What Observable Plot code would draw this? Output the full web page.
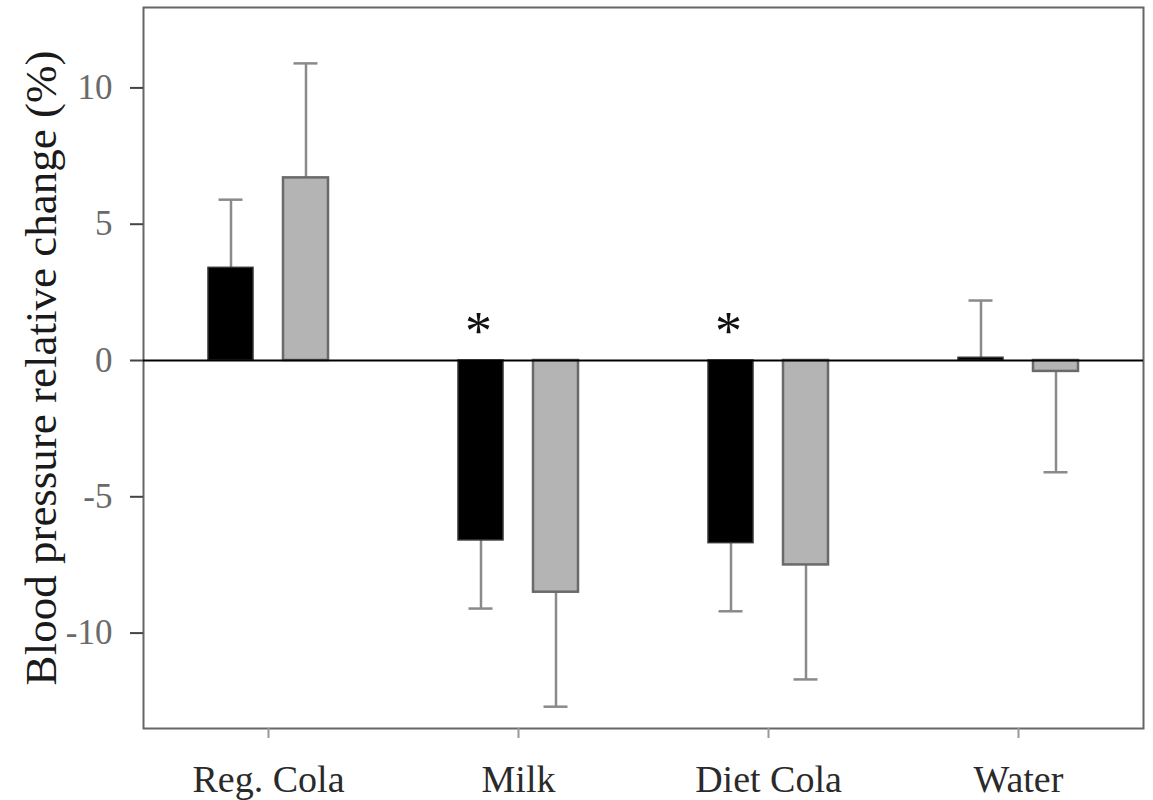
<!DOCTYPE html>
<html>
<head>
<meta charset="utf-8">
<script src="https://cdn.jsdelivr.net/npm/d3@7"></script>
<script src="https://cdn.jsdelivr.net/npm/@observablehq/plot@0.6"></script>
<style>
  html, body { margin: 0; padding: 0; background: #fff; }
  #chart svg { display: block; }
</style>
</head>
<body>
<div id="chart"></div>
<script>
// Categories
const drinks = ["Reg. Cola", "Milk", "Diet Cola", "Water"];
// Series 1 (black bars)
const blackValues = [3.4, -6.6, -6.7, 0.1];
const blackErrors = [2.5, 2.5, 2.5, 2.1];
// Series 2 (grey bars)
const greyValues = [6.7, -8.5, -7.5, -0.4];
const greyErrors = [4.2, 4.2, 4.2, 3.7];
// Significance markers above black bars
const significance = ["", "*", "*", ""];
// Y tick values
const yTicks = [-10, -5, 0, 5, 10];
const yLabel = "Blood pressure relative change (%)";

const blackRows = drinks.map((d, i) => ({drink: d, value: blackValues[i], err: blackErrors[i], sig: significance[i]}));
const greyRows = drinks.map((d, i) => ({drink: d, value: greyValues[i], err: greyErrors[i]}));
const errEnd = d => d.value + Math.sign(d.value) * d.err;

const font = "'Liberation Serif', 'Times New Roman', serif";
const barInset = 102.5;
const capInset = 113;
const off = 37.5;
const errColor = "#8a8a8a";

const chart = Plot.plot({
  width: 1153,
  height: 800,
  marginLeft: 143,
  marginRight: 10,
  marginTop: 7,
  marginBottom: 72,
  style: {fontFamily: font, background: "#fff"},
  x: {domain: drinks, padding: 0, label: null},
  y: {domain: [-13.5, 12.95], label: null},
  marks: [
    Plot.frame({stroke: "#666", strokeWidth: 2}),
    Plot.axisY({ticks: yTicks, tickFormat: d => String(d), tickSize: 13, tickPadding: 18, fontSize: 35, color: "#6a6a6a", stroke: "#444", strokeWidth: 2, label: null}),
    Plot.axisX({tickSize: 10, tickPadding: 27, fontSize: 38, color: "#2a2a2a", stroke: "#999", strokeWidth: 2, label: null}),
    // error bars
    Plot.ruleX(blackRows, {x: "drink", y1: "value", y2: errEnd, dx: -off, stroke: errColor, strokeWidth: 2.5}),
    Plot.tickY(blackRows, {x: "drink", y: errEnd, dx: -off, insetLeft: capInset, insetRight: capInset, stroke: errColor, strokeWidth: 2.5}),
    Plot.ruleX(greyRows, {x: "drink", y1: "value", y2: errEnd, dx: off, stroke: errColor, strokeWidth: 2.5}),
    Plot.tickY(greyRows, {x: "drink", y: errEnd, dx: off, insetLeft: capInset, insetRight: capInset, stroke: errColor, strokeWidth: 2.5}),
    // bars
    Plot.barY(blackRows, {x: "drink", y: "value", dx: -off, insetLeft: barInset, insetRight: barInset, fill: "#000", stroke: "#333", strokeWidth: 1.5}),
    Plot.barY(greyRows, {x: "drink", y: "value", dx: off, insetLeft: barInset, insetRight: barInset, fill: "#b4b4b4", stroke: "#6a6a6a", strokeWidth: 2.5}),
    // zero line
    Plot.ruleY([0], {stroke: "#000", strokeWidth: 2}),
    // significance asterisks
    Plot.text(blackRows.filter(d => d.sig), {x: "drink", y: 0, text: "sig", dx: -40, dy: -12, lineAnchor: "bottom", fontSize: 54, fill: "#111"}),
    // y-axis title
    Plot.text([yLabel], {frameAnchor: "left", text: d => d, rotate: -90, dx: -102, textAnchor: "middle", lineAnchor: "middle", fontSize: 45, fill: "#1a1a1a"})
  ]
});
document.getElementById("chart").appendChild(chart);
</script>
</body>
</html>
